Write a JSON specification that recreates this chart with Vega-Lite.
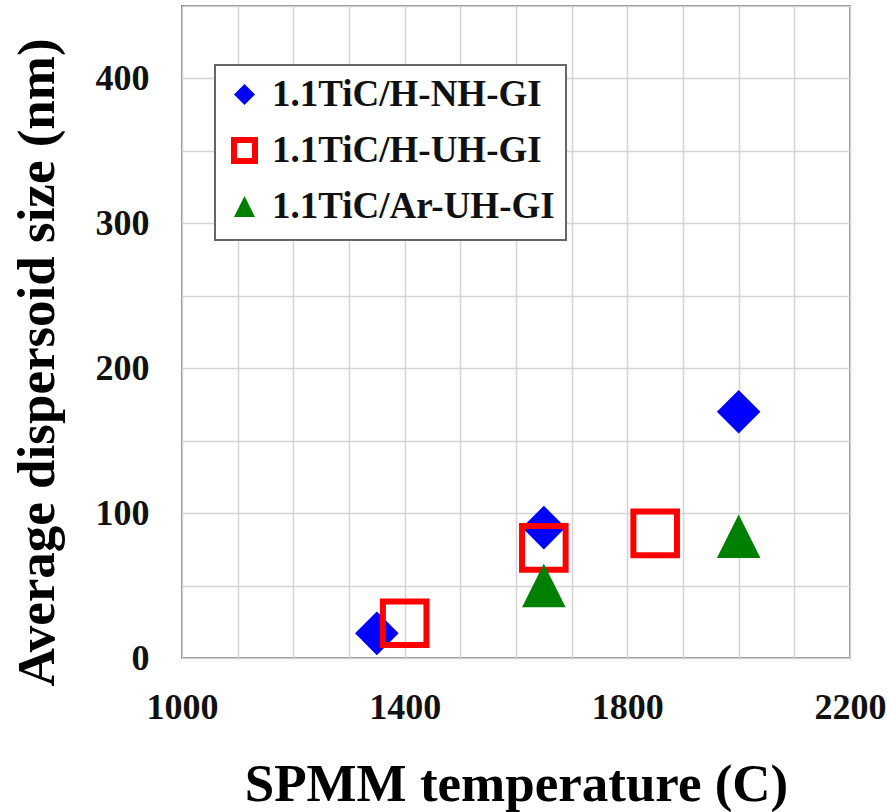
{
  "$schema": "https://vega.github.io/schema/vega-lite/v6.json",
  "autosize": "none",
  "width": 668,
  "height": 652,
  "padding": {"left": 182, "top": 6, "right": 37, "bottom": 154},
  "background": "white",
  "data": {
    "values": [
      {"series": "1.1TiC/H-NH-GI", "temp": 1350, "size": 17},
      {"series": "1.1TiC/H-NH-GI", "temp": 1650, "size": 90},
      {"series": "1.1TiC/H-NH-GI", "temp": 2000, "size": 170},
      {"series": "1.1TiC/H-UH-GI", "temp": 1400, "size": 24},
      {"series": "1.1TiC/H-UH-GI", "temp": 1650, "size": 76},
      {"series": "1.1TiC/H-UH-GI", "temp": 1850, "size": 86},
      {"series": "1.1TiC/Ar-UH-GI", "temp": 1650, "size": 50},
      {"series": "1.1TiC/Ar-UH-GI", "temp": 2000, "size": 84}
    ]
  },
  "mark": {"type": "point", "filled": false, "size": 1900, "strokeWidth": 6, "opacity": 1},
  "encoding": {
    "x": {
      "field": "temp", "type": "quantitative",
      "scale": {"domain": [1000, 2200], "nice": false, "zero": false},
      "axis": {
        "title": "SPMM temperature (C)",
        "values": [1000, 1100, 1200, 1300, 1400, 1500, 1600, 1700, 1800, 1900, 2000, 2100, 2200],
        "format": "d",
        "labelExpr": "(datum.value - 1000) % 400 === 0 ? datum.label : ''",
        "titleY": 142,
        "titleBaseline": "alphabetic",
        "labelPadding": 32
      }
    },
    "y": {
      "field": "size", "type": "quantitative",
      "scale": {"domain": [0, 450], "nice": false},
      "axis": {
        "title": "Average dispersoid size (nm)",
        "values": [0, 50, 100, 150, 200, 250, 300, 350, 400, 450],
        "format": "d",
        "labelExpr": "datum.value % 100 === 0 && datum.value < 450 ? datum.label : ''",
        "titleX": -129,
        "titleY": 356,
        "titleBaseline": "alphabetic",
        "labelPadding": 33
      }
    },
    "shape": {
      "field": "series", "type": "nominal",
      "scale": {
        "domain": ["1.1TiC/H-NH-GI", "1.1TiC/H-UH-GI", "1.1TiC/Ar-UH-GI"],
        "range": ["diamond", "square", "M0,-1L1,1L-1,1Z"]
      },
      "legend": {"title": null}
    },
    "fill": {
      "field": "series", "type": "nominal",
      "scale": {
        "domain": ["1.1TiC/H-NH-GI", "1.1TiC/H-UH-GI", "1.1TiC/Ar-UH-GI"],
        "range": ["#0000ff", "transparent", "#008000"]
      },
      "legend": {"title": null}
    },
    "stroke": {
      "field": "series", "type": "nominal",
      "scale": {
        "domain": ["1.1TiC/H-NH-GI", "1.1TiC/H-UH-GI", "1.1TiC/Ar-UH-GI"],
        "range": ["transparent", "#ff0000", "transparent"]
      },
      "legend": {"title": null}
    }
  },
  "config": {
    "font": "Liberation Serif",
    "view": {"stroke": "#888888", "strokeWidth": 2},
    "axis": {
      "labelFont": "Liberation Serif",
      "labelFontWeight": "bold",
      "labelFontSize": 36,
      "labelColor": "#111111",
      "titleFont": "Liberation Serif",
      "titleFontWeight": "bold",
      "titleFontSize": 53,
      "titleColor": "#000000",
      "tickSize": 0,
      "domain": false,
      "grid": true,
      "gridColor": "#d4d4d4",
      "gridWidth": 1.5,
      "labelFlush": false,
      "labelOverlap": false
    },
    "legend": {
      "orient": "none",
      "legendX": 33,
      "legendY": 59,
      "direction": "vertical",
      "labelFont": "Liberation Serif",
      "labelFontWeight": "bold",
      "labelFontSize": 37,
      "labelColor": "#111111",
      "labelOffset": 9,
      "labelLimit": 400,
      "symbolSize": 441,
      "symbolStrokeWidth": 6,
      "rowPadding": 11,
      "padding": 11,
      "fillColor": "white",
      "strokeColor": "#666666",
      "strokeWidth": 2
    }
  }
}
